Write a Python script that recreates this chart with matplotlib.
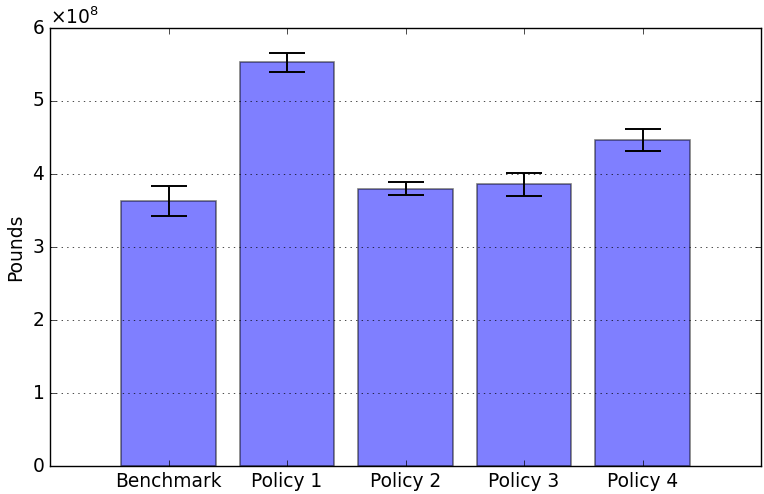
import numpy as np
import matplotlib
matplotlib.use('Agg')
import matplotlib.pyplot as plt
from matplotlib.ticker import ScalarFormatter

# data (units of 1e8 pounds)
labels = ['Benchmark', 'Policy 1', 'Policy 2', 'Policy 3', 'Policy 4']
means = np.array([3.63, 5.53, 3.80, 3.86, 4.46]) * 1e8
errs = np.array([0.20, 0.13, 0.09, 0.16, 0.15]) * 1e8

plt.style.use('classic')
plt.rcParams['font.family'] = ['DejaVu Sans']
plt.rcParams['mathtext.fontset'] = 'dejavusans'
plt.rcParams['font.size'] = 13.4

fig = plt.figure(figsize=(7.64, 4.94), dpi=100, facecolor='white')
ax = fig.add_axes([50 / 764, 28 / 494, 711 / 764, 438 / 494])

x = np.arange(len(labels))
ax.bar(x, means, width=0.8, align='center', color='blue', alpha=0.5,
       edgecolor='black', linewidth=1.2)
ax.errorbar(x, means, yerr=errs, fmt='none', ecolor='black',
            elinewidth=1.4, capsize=13, capthick=1.4)

ax.set_xlim(-1, 5)
ax.set_ylim(0, 6e8)
ax.set_xticks(x)
ax.set_xticklabels(labels)
ax.set_ylabel('Pounds')
fmt = ScalarFormatter(useMathText=True)
ax.yaxis.set_major_formatter(fmt)
ax.tick_params(labelsize=13.4)
ax.yaxis.grid(True, linestyle=':', color='black')
ax.set_axisbelow(False)

fig.savefig('out.png', dpi=100, facecolor='white')
